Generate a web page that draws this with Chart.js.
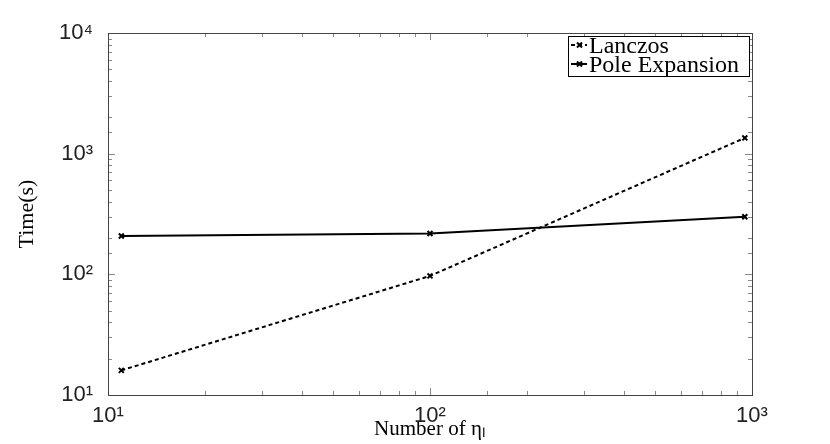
<!DOCTYPE html>
<html>
<head>
<meta charset="utf-8">
<script src="https://cdn.jsdelivr.net/npm/chart.js@4.4.0/dist/chart.umd.min.js"></script>
<style>
  html, body { margin: 0; padding: 0; background: #fff; }
  #wrap { width: 830px; height: 444px; }
</style>
</head>
<body>
<div id="wrap"><canvas id="chart"></canvas></div>
<script>
// values (log-log)
const etaCounts = [11, 100, 950];
const lanczosTime = [16, 97, 1350];
const poleTime = [208, 218, 300];
const seriesNames = ['Lanczos', 'Pole Expansion'];
const xRange = [10, 1000];
const yRange = [10, 10000];

const supers = { 0: '⁰', 1: '¹', 2: '²', 3: '³', 4: '⁴' };
const isPow10 = (v) => Math.abs(Math.log10(v) - Math.round(Math.log10(v))) < 1e-9;
const powLabel = (v) => isPow10(v) ? '10' + supers[Math.round(Math.log10(v))] : '';

const toPoints = (ys) => etaCounts.map((x, i) => ({ x: x, y: ys[i] }));

// ticks pointing into the plot on all four sides, plus the frame
const inwardTicks = {
  id: 'inwardTicks',
  afterDatasetsDraw(chart) {
    const { ctx, chartArea: a, scales: { x, y } } = chart;
    ctx.save();
    ctx.lineWidth = 1;
    ctx.strokeStyle = '#8a8a8a';
    const seg = (x1, y1, x2, y2) => {
      ctx.beginPath(); ctx.moveTo(x1, y1); ctx.lineTo(x2, y2); ctx.stroke();
    };
    x.ticks.forEach(t => {
      const px = Math.round(x.getPixelForValue(t.value)) + 0.5;
      const len = isPow10(t.value) ? 7 : 4;
      seg(px, a.bottom, px, a.bottom - len);
      seg(px, a.top, px, a.top + len);
    });
    y.ticks.forEach(t => {
      const py = Math.round(y.getPixelForValue(t.value)) + 0.5;
      const len = isPow10(t.value) ? 7 : 4;
      seg(a.left, py, a.left + len, py);
      seg(a.right, py, a.right - len, py);
    });
    ctx.strokeStyle = '#444';
    ctx.strokeRect(Math.round(a.left) + 0.5, Math.round(a.top) + 0.5,
      Math.round(a.right - a.left), Math.round(a.bottom - a.top));
    ctx.restore();
  }
};

// boxed legend in the top right corner of the plot
const boxLegend = {
  id: 'boxLegend',
  afterDraw(chart) {
    const { ctx, chartArea: a } = chart;
    const w = 181, h = 40;
    const right = a.right - 3, top = a.top + 3, left = right - w;
    ctx.save();
    ctx.fillStyle = '#fff';
    ctx.fillRect(left, top, w, h);
    ctx.strokeStyle = '#000';
    ctx.lineWidth = 1;
    ctx.strokeRect(left + 0.5, top + 0.5, w, h);
    chart.data.datasets.forEach((ds, i) => {
      const cy = top + 9 + i * 19;
      ctx.strokeStyle = '#000';
      ctx.lineWidth = 2;
      ctx.setLineDash(ds.borderDash || []);
      ctx.beginPath(); ctx.moveTo(left + 3, cy); ctx.lineTo(left + 19, cy); ctx.stroke();
      ctx.setLineDash([]);
      ctx.beginPath();
      ctx.moveTo(left + 9, cy - 2.5); ctx.lineTo(left + 14, cy + 2.5);
      ctx.moveTo(left + 14, cy - 2.5); ctx.lineTo(left + 9, cy + 2.5);
      ctx.stroke();
      ctx.fillStyle = '#000';
      ctx.font = '24px "Liberation Serif"';
      ctx.textBaseline = 'alphabetic';
      ctx.fillText(ds.label, left + 21, cy + 8);
    });
    ctx.restore();
  }
};

new Chart(document.getElementById('chart'), {
  type: 'line',
  data: {
    datasets: [
      {
        label: seriesNames[0],
        data: toPoints(lanczosTime),
        borderColor: '#000',
        backgroundColor: '#000',
        borderWidth: 2,
        borderDash: [4, 3],
        pointStyle: 'crossRot',
        pointRadius: 3.5,
        pointBorderWidth: 2,
        fill: false,
        tension: 0
      },
      {
        label: seriesNames[1],
        data: toPoints(poleTime),
        borderColor: '#000',
        backgroundColor: '#000',
        borderWidth: 2,
        pointStyle: 'crossRot',
        pointRadius: 3.5,
        pointBorderWidth: 2,
        fill: false,
        tension: 0
      }
    ]
  },
  options: {
    responsive: true,
    maintainAspectRatio: false,
    animation: false,
    layout: { padding: { top: 33, right: 78, left: 0, bottom: 0 } },
    plugins: {
      legend: { display: false },
      tooltip: { enabled: false }
    },
    scales: {
      x: {
        type: 'logarithmic',
        min: xRange[0],
        max: xRange[1],
        grid: { display: false },
        border: { display: false },
        afterFit: (s) => { s.height = 49; },
        ticks: {
          autoSkip: false,
          maxRotation: 0,
          padding: 0,
          color: '#222',
          font: { family: 'Liberation Sans', size: 22 },
          callback: (v) => powLabel(v)
        },
        title: {
          display: true,
          text: 'Number of ηₗ',
          color: '#000',
          font: { family: 'Liberation Serif', size: 21 },
          padding: { top: 0, bottom: 2 }
        }
      },
      y: {
        type: 'logarithmic',
        min: yRange[0],
        max: yRange[1],
        grid: { display: false },
        border: { display: false },
        afterFit: (s) => { s.width = 108; },
        ticks: {
          autoSkip: false,
          padding: 7,
          color: '#222',
          font: { family: 'Liberation Sans', size: 22 },
          callback: (v) => powLabel(v)
        },
        title: {
          display: true,
          text: 'Time(s)',
          color: '#000',
          font: { family: 'Liberation Serif', size: 22 },
          padding: { top: 14, bottom: 0 }
        }
      }
    }
  },
  plugins: [inwardTicks, boxLegend]
});
</script>
</body>
</html>
